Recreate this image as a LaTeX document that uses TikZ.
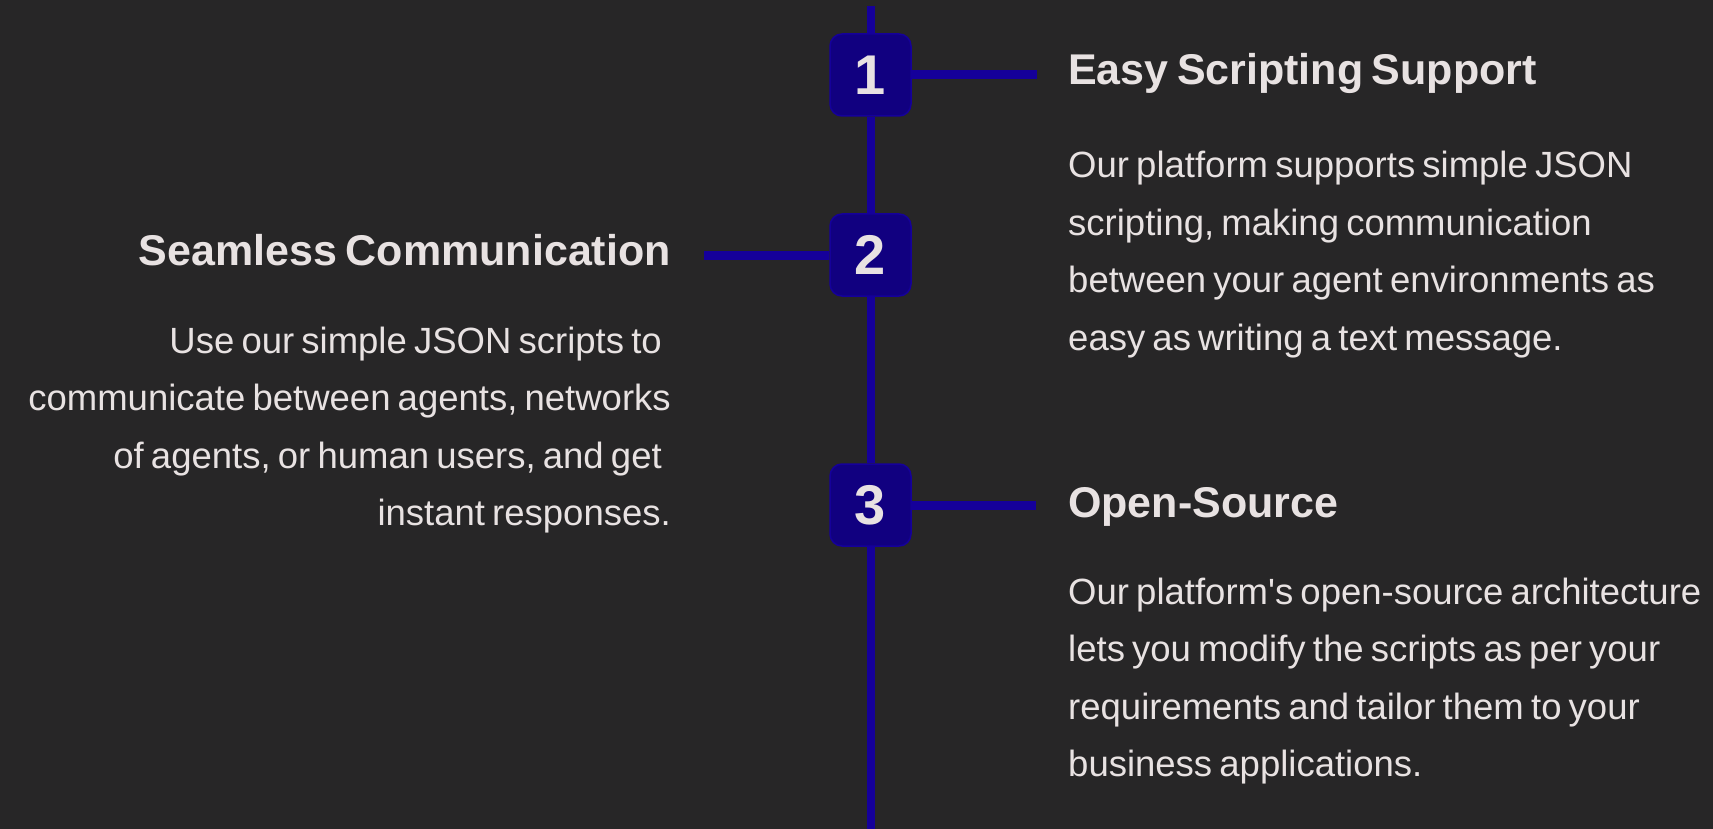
\documentclass[tikz,border=0pt]{standalone}
\usepackage{fontspec}
\setmainfont{Liberation Sans}
\definecolor{bg}{HTML}{272627}
\definecolor{txt}{HTML}{E8E2E2}
\definecolor{boxfill}{HTML}{110080}
\definecolor{linec}{HTML}{15009A}
\newcommand\bodysize{\fontsize{36.5}{57.5}\selectfont}
\newcommand\ws{\spaceskip=7.2pt\xspaceskip=7.2pt\relax}
\newcommand\tws{\spaceskip=8.5pt\xspaceskip=8.5pt\relax}
\begin{document}
\begin{tikzpicture}[x=1pt,y=-1pt,
  numbox/.style={draw=linec, line width=1.5pt, fill=boxfill, rounded corners=12pt,
    minimum width=81pt, minimum height=82pt, inner sep=0pt, text=txt,
    font=\fontsize{56}{60}\selectfont\bfseries},
  spine/.style={draw=linec, line width=8pt},
  conn/.style={draw=linec, line width=9pt},
  title/.style={inner sep=0pt, text=txt, font=\fontsize{43}{50}\selectfont\bfseries},
  bodyR/.style={inner sep=0pt, text=txt, text width=660pt, align=left,
    font=\bodysize},
  bodyL/.style={inner sep=0pt, text=txt, text width=700pt, align=right,
    font=\bodysize}]
\fill[bg] (0,0) rectangle (1713,829);
\useasboundingbox (0,0) rectangle (1713,829);
% spine
\coordinate (top) at (870.5,6);
\coordinate (bot) at (870.5,829);
\node[numbox] (b1) at (870.5,75) {1};
\node[numbox] (b2) at (870.5,255) {2};
\node[numbox] (b3) at (870.5,505) {3};
\coordinate (c1) at (1037,75);
\coordinate (c2) at (704,255);
\coordinate (c3) at (1036,505);
% texts
\node[title, anchor=base west] (t1) at (1068,85) {\tws Easy Scripting Support};
\node[bodyR, anchor=base west] (d1) at (1068,178) {\ws Our platform supports simple JSON\\
scripting, making communication\\
between your agent environments as\\
easy as writing a text message.};
\node[title, anchor=base east] (t2) at (671,265) {\tws Seamless Communication};
\node[bodyL, anchor=base east] (d2) at (671,353) {\ws Use our simple JSON scripts to\kern9pt\\
communicate between agents, networks\\
of agents, or human users, and get\kern9pt\\
instant responses.};
\node[title, anchor=base west] (t3) at (1068,517) {Open-Source};
\node[bodyR, anchor=base west] (d3) at (1068,604) {\ws Our platform\textquotesingle s open-source architecture\\
lets you modify the scripts as per your\\
requirements and tailor them to your\\
business applications.};
% connectors
\draw[spine] (top) -- (b1.north);
\draw[spine] (b1.south) -- (b2.north);
\draw[spine] (b2.south) -- (b3.north);
\draw[spine] (b3.south) -- (bot);
\draw[conn] (b1.east) -- (c1);
\draw[conn] (c2) -- (b2.west);
\draw[conn] (b3.east) -- (c3);
\end{tikzpicture}
\end{document}
